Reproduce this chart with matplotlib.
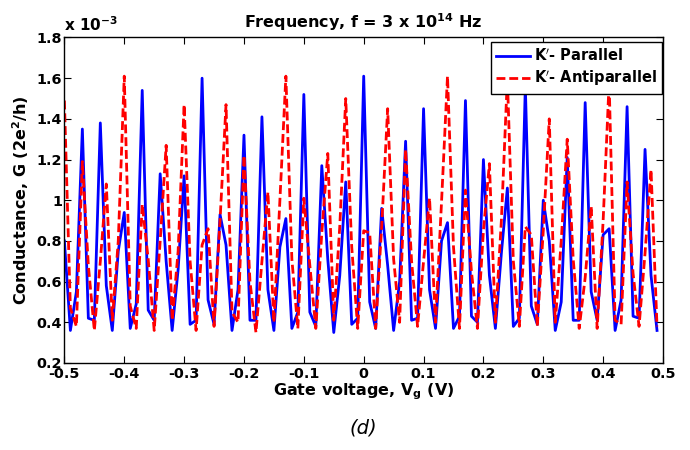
import matplotlib
matplotlib.use('Agg')
import matplotlib.pyplot as plt
import numpy as np

plt.rcParams['font.family'] = ['DejaVu Sans']
plt.rcParams['font.weight'] = 'bold'
plt.rcParams['mathtext.default'] = 'bf'

# Gate voltage grid (V)
gate_voltage = np.linspace(-0.5, 0.49, 100)

# Conductance (x 1e-3, units of 2e^2/h)
parallel = [
    0.80, 0.36, 0.55, 1.35, 0.42, 0.41, 1.38, 0.58, 0.36, 0.75,
    0.94, 0.37, 0.49, 1.54, 0.46, 0.41, 1.13, 0.70, 0.36, 0.66,
    1.12, 0.39, 0.41, 1.60, 0.51, 0.39, 0.93, 0.78, 0.36, 0.56,
    1.32, 0.41, 0.41, 1.41, 0.56, 0.36, 0.77, 0.91, 0.37, 0.45,
    1.52, 0.45, 0.38, 1.17, 0.71, 0.35, 0.63, 1.09, 0.39, 0.42,
    1.61, 0.50, 0.37, 0.96, 0.68, 0.36, 0.60, 1.29, 0.41, 0.42,
    1.45, 0.56, 0.37, 0.80, 0.89, 0.37, 0.43, 1.49, 0.43, 0.40,
    1.20, 0.63, 0.37, 0.74, 1.06, 0.38, 0.42, 1.56, 0.48, 0.39,
    1.00, 0.80, 0.36, 0.50, 1.21, 0.41, 0.41, 1.48, 0.55, 0.41,
    0.83, 0.86, 0.36, 0.51, 1.46, 0.43, 0.42, 1.25, 0.63, 0.36,
]
antiparallel = [
    1.49, 0.47, 0.38, 1.19, 0.68, 0.36, 0.70, 1.08, 0.41, 0.80,
    1.61, 0.48, 0.37, 0.98, 0.71, 0.36, 0.80, 1.27, 0.41, 0.75,
    1.47, 0.70, 0.36, 0.78, 0.86, 0.38, 0.90, 1.47, 0.45, 0.40,
    1.22, 0.60, 0.35, 0.70, 1.04, 0.40, 1.00, 1.61, 0.71, 0.37,
    1.01, 0.68, 0.37, 0.84, 1.23, 0.41, 0.87, 1.50, 0.77, 0.37,
    0.85, 0.84, 0.37, 0.87, 1.45, 0.71, 0.40, 1.25, 0.70, 0.38,
    0.70, 1.01, 0.40, 0.99, 1.61, 0.77, 0.37, 1.05, 0.65, 0.37,
    0.85, 1.18, 0.40, 0.90, 1.60, 0.70, 0.38, 0.87, 0.83, 0.38,
    0.85, 1.40, 0.40, 0.80, 1.30, 0.71, 0.37, 0.62, 0.97, 0.37,
    0.90, 1.58, 0.41, 0.39, 1.09, 0.64, 0.38, 0.74, 1.15, 0.38,
]

x_ticks = [-0.5, -0.4, -0.3, -0.2, -0.1, 0, 0.1, 0.2, 0.3, 0.4, 0.5]
x_tick_labels = ['-0.5', '-0.4', '-0.3', '-0.2', '-0.1', '0', '0.1', '0.2', '0.3', '0.4', '0.5']
y_ticks = [0.2, 0.4, 0.6, 0.8, 1.0, 1.2, 1.4, 1.6, 1.8]
y_tick_labels = ['0.2', '0.4', '0.6', '0.8', '1', '1.2', '1.4', '1.6', '1.8']

fig = plt.figure(figsize=(6.9, 4.5), dpi=100)
ax = fig.add_axes([64.4 / 690, 1 - 363 / 450, (663 - 64.4) / 690, (363 - 37.5) / 450])

ax.plot(gate_voltage, parallel, color='#0000ff', lw=2.0, label=r"K$^{\prime}$- Parallel")
ax.plot(gate_voltage, antiparallel, color='#ff0000', lw=2.0, ls=(0, (3.2, 1.4)),
        label=r"K$^{\prime}$- Antiparallel")

ax.set_xlim(-0.5, 0.5)
ax.set_ylim(0.2, 1.8)
ax.set_xticks(x_ticks)
ax.set_xticklabels(x_tick_labels)
ax.set_yticks(y_ticks)
ax.set_yticklabels(y_tick_labels)
ax.tick_params(direction='in', top=True, right=True, length=5, width=0.8,
               labelsize=10.4)
ax.tick_params(axis='y', pad=1.5)
ax.tick_params(axis='x', pad=3)
for lab in ax.get_xticklabels() + ax.get_yticklabels():
    lab.set_fontweight('bold')
for sp in ax.spines.values():
    sp.set_linewidth(1.0)

ax.set_title(r"Frequency, f = 3 x 10$^{14}$ Hz", fontsize=11.5, fontweight='bold', pad=7)
ax.set_xlabel(r"Gate voltage, V$_{g}$ (V)", fontsize=11.5, fontweight='bold', labelpad=0)
ax.set_ylabel(r"Conductance, G (2e$^{2}$/h)", fontsize=11.5, fontweight='bold', labelpad=4)
ax.text(0.0, 1.012, r"x 10$^{-3}$", transform=ax.transAxes, fontsize=11,
        fontweight='bold', ha='left', va='bottom')

leg = ax.legend(loc='upper right', bbox_to_anchor=(1 - 1 / 598, 1 - 4.5 / 326),
                borderaxespad=0, fontsize=10.5, frameon=True, fancybox=False,
                edgecolor='black', framealpha=1, handlelength=2.3,
                handletextpad=0.3, labelspacing=0.35, borderpad=0.35)
leg.get_frame().set_linewidth(1.0)
for t in leg.get_texts():
    t.set_fontweight('bold')

fig.text(363 / 690, 1 - 428 / 450, "(d)", fontsize=14, style='italic',
         fontweight='normal', ha='center', va='center')

fig.savefig('out.png', dpi=100)
